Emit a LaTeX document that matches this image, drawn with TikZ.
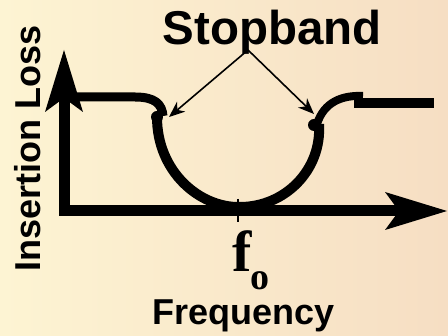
\documentclass[tikz,border=0pt]{standalone}
\usepackage{fontspec}
\usetikzlibrary{arrows.meta}
\newfontfamily\labelsans{Liberation Sans}
\newfontfamily\labelserif{Liberation Serif}
\definecolor{bgleft}{HTML}{FDF4D3}
\definecolor{bgright}{HTML}{F6DEC3}
\tikzset{
  axisline/.style={line width=11pt, -{Stealth[length=62pt,width=38pt,inset=14pt,line width=0pt]}},
  curveline/.style={line width=9pt},
  pointer/.style={line width=1.6pt, -{Stealth[length=16pt,width=13pt,inset=5pt,line width=0pt]}},
  blob/.style={circle, fill=black, inner sep=0pt, minimum size=12pt},
  sanslabel/.style={font=\labelsans\bfseries, inner sep=0pt},
}
\begin{document}
\begin{tikzpicture}[x=1pt, y=-1pt]
  % page and background
  \useasboundingbox (0,0) rectangle (448,336);
  \shade[left color=bgleft, right color=bgright] (0,0) rectangle (448,336);

  % axes
  \coordinate (origin) at (64,211);
  \coordinate (ytip) at (64,50);
  \coordinate (xtip) at (447,211);
  \draw[axisline] (64,216) -- (ytip);
  \draw[axisline] (59,211) -- (xtip);

  % response curve
  \coordinate (passL) at (64,97);
  \node[blob] (edgeL) at (157,117) {};
  \node[blob] (edgeR) at (314,125) {};
  \draw[curveline] (passL) -- (135,97) .. controls (155,97) and (162,104) .. (163,116);
  \draw[line width=10pt] (edgeL.center) .. controls (157,172) and (200,208) .. (240,207)
        .. controls (285,207) and (322,170) .. (319,124);
  \draw[line width=8pt] (317,124) .. controls (324,102) and (342,95) .. (363,96);
  \draw[line width=10pt] (354,103) -- (434,103);

  % centre frequency tick
  \draw[line width=2pt] (238,199) -- (238,222);

  % labels
  \node[sanslabel, anchor=base] (stop) at (272,45) {\fontsize{47.5}{50}\selectfont Stopband};
  \coordinate (stopfoot) at (248,50);
  \draw[pointer] (stopfoot) -- (169,117);
  \draw[pointer] (stopfoot) -- (314,114);

  \node[sanslabel, anchor=base, rotate=90] (ylab) at (40,148.5) {\fontsize{36}{38}\selectfont Insertion Loss};
  \node[sanslabel, anchor=base] (xlab) at (243.5,325) {\fontsize{36}{38}\selectfont Frequency};
  \node[font=\labelserif\bfseries, anchor=base, inner sep=0pt] (fsym) at (242,272) {\fontsize{58}{60}\selectfont f};
  \node[font=\labelserif\bfseries, anchor=base, inner sep=0pt] (fsub) at (260,290) {\fontsize{38}{40}\selectfont o};
\end{tikzpicture}
\end{document}
